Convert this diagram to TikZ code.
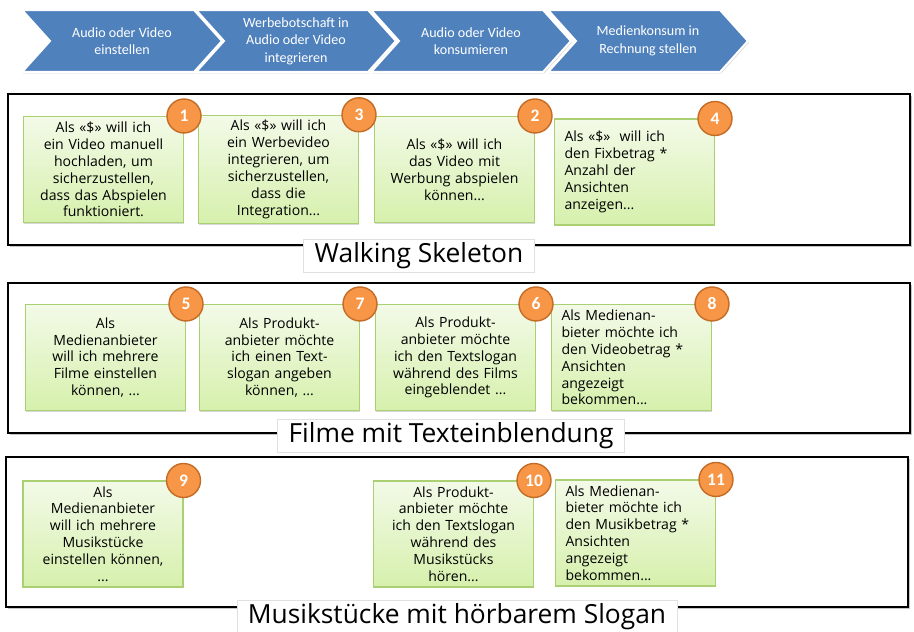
\documentclass[tikz,border=0pt]{standalone}
\usepackage{fontspec}
\usepackage{tikz}
\usetikzlibrary{calc,positioning,shapes.symbols,shadows}
\newfontfamily\chevfont{Carlito}
\newfontfamily\notefont{Open Sans}
\definecolor{stepblue}{RGB}{79,129,189}
\definecolor{notetop}{RGB}{243,250,232}
\definecolor{notebot}{RGB}{214,240,172}
\definecolor{noteedge}{RGB}{170,208,115}
\definecolor{badgefill}{RGB}{247,150,70}
\definecolor{badgeedge}{RGB}{196,108,38}
\tikzset{
  % prozessschritte (pfeile oben)
  prozess/.style={signal,signal to=east,signal from=west,signal pointer angle=96,
    fill=stepblue,draw=white,line width=1.2pt,minimum width=40mm,minimum height=12.4mm,
    text=white,align=center,font=\chevfont\fontsize{8}{10}\selectfont,
    drop shadow={shadow xshift=.6pt,shadow yshift=-.8pt,opacity=.35}},
  % story-karten und ihre nummern
  karte/.style={rectangle,draw=noteedge,line width=.6pt,top color=notetop,bottom color=notebot,
    minimum width=32mm,minimum height=21.2mm,text width=30mm,align=center,inner sep=1mm,
    font=\notefont\fontsize{8}{9.6}\selectfont,
    drop shadow={shadow xshift=.5pt,shadow yshift=-.7pt,opacity=.3}},
  kartelinks/.style={karte,text width=28mm,align=left},
  nummer/.style={circle,fill=badgefill,draw=badgeedge,line width=.8pt,minimum size=6.8mm,
    inner sep=0pt,text=white,font=\chevfont\bfseries\fontsize{10}{10}\selectfont},
  % rahmen der releases mit titel
  rahmen/.style={draw=black,fill=white,line width=1.3pt,
    drop shadow={shadow xshift=1pt,shadow yshift=-1.2pt,opacity=.45}},
  titel/.style={rectangle,fill=white,draw=black!12,line width=.4pt,inner xsep=2.2mm,
    inner ysep=.6mm,minimum height=5.8mm,font=\notefont\fontsize{15}{15}\selectfont},
}

\begin{document}
\begin{tikzpicture}[x=0.02cm,y=-0.02cm]
  \useasboundingbox (0,0) rectangle (914,632);

  % prozesskette
  \node[prozess] (p1) at (122,41) {Audio oder Video\\einstellen};
  \node[prozess] (p2) at (296,41) {Werbebotschaft in\\Audio oder Video\\integrieren};
  \node[prozess] (p3) at (471,41) {Audio oder Video\\konsumieren};
  \node[prozess] (p4) at (648,41) {Medienkonsum in\\Rechnung stellen};

  % release 1
  \draw[rahmen] (8,94) rectangle (910,245);
  \node[karte] (k1) at (103.5,169.5) {Als «\$» will ich\\ein Video manuell\\hochladen, um\\sicherzustellen,\\dass das Abspielen\\funktioniert.};
  \node[karte] (k3) at (278.5,169.5) {Als «\$» will ich\\ein Werbevideo\\integrieren, um\\sicherzustellen,\\dass die\\Integration...};
  \node[karte] (k2) at (454.5,169.5) {Als «\$» will ich\\das Video mit\\Werbung abspielen\\können...};
  \node[kartelinks] (k4) at (634.5,172) {Als «\$»~ will ich\\den Fixbetrag *\\Anzahl der\\Ansichten\\anzeigen...};
  \node[nummer] (n1) at (k1.north east) {1};
  \node[nummer] (n3) at (k3.north east) {3};
  \node[nummer] (n2) at (k2.north east) {2};
  \node[nummer] (n4) at (k4.north east) {4};
  \node[titel] (t1) at (419,256) {Walking Skeleton};

  % release 2
  \draw[rahmen] (8,283) rectangle (910,433);
  \node[karte] (k5) at (105.5,357.5) {Als\\Medienanbieter\\will ich mehrere\\Filme einstellen\\können, ...};
  \node[karte] (k7) at (279.5,357.5) {Als Produkt-\\anbieter möchte\\ich einen Text-\\slogan angeben\\können, ...};
  \node[karte] (k6) at (455.5,357.5) {Als Produkt-\\anbieter möchte\\ich den Textslogan\\während des Films\\eingeblendet ...};
  \node[kartelinks] (k8) at (631.5,357.5) {Als Medienan-\\bieter möchte ich\\den Videobetrag *\\Ansichten\\angezeigt\\bekommen...};
  \node[nummer] (n5) at (k5.north east) {5};
  \node[nummer] (n7) at (k7.north east) {7};
  \node[nummer] (n6) at (k6.north east) {6};
  \node[nummer] (n8) at (k8.north east) {8};
  \node[titel] (t2) at (451,436) {Filme mit Texteinblendung};

  % release 3
  \draw[rahmen] (6,457) rectangle (908,607);
  \node[karte] (k9) at (103,534) {Als\\Medienanbieter\\will ich mehrere\\Musikstücke\\einstellen können,\\...};
  \node[karte] (k10) at (453.5,534) {Als Produkt-\\anbieter möchte\\ich den Textslogan\\während des\\Musikstücks\\hören...};
  \node[kartelinks] (k11) at (635.5,533) {Als Medienan-\\bieter möchte ich\\den Musikbetrag *\\Ansichten\\angezeigt\\bekommen...};
  \node[nummer] (n9) at (k9.north east) {9};
  \node[nummer] (n10) at (k10.north east) {10};
  \node[nummer] (n11) at (k11.north east) {11};
  \node[titel] (t3) at (457,617) {Musikstücke mit hörbarem Slogan};
\end{tikzpicture}
\end{document}
